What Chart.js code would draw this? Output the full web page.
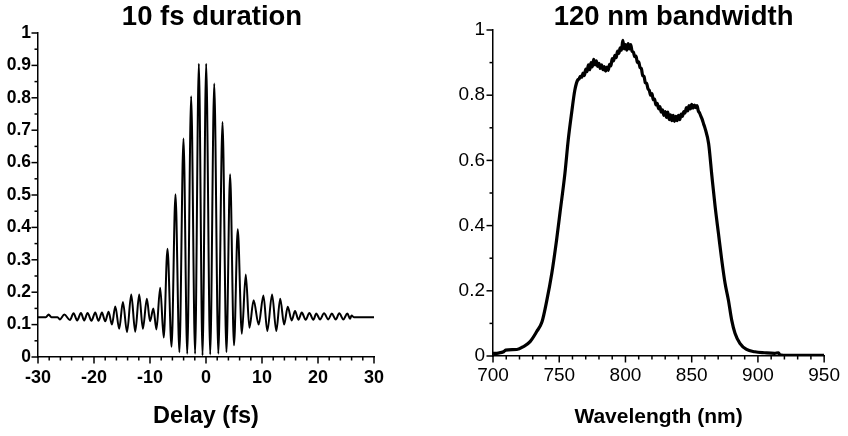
<!DOCTYPE html>
<html>
<head>
<meta charset="utf-8">
<script src="https://cdn.jsdelivr.net/npm/chart.js@4.4.1/dist/chart.umd.min.js"></script>
<style>
  body { margin: 0; background: #fff; }
  #wrap { display: flex; width: 848px; height: 436px; }
  canvas { display: block; }
</style>
</head>
<body>
<div id="wrap">
  <canvas id="acChart" width="424" height="436"></canvas>
  <canvas id="specChart" width="424" height="436"></canvas>
</div>
<script>
// interferometric autocorrelation (peaks and troughs)
const delayFs = [
  -30, -28.6, -28.1, -27.6, -26.5, -26.1, -25.3, -24.3, -23.65, -23.0, -22.33, -21.75, -21.15,
  -20.45, -19.78, -19.2, -18.58, -18.0, -17.4, -16.8, -16.2, -15.5, -14.84, -14.1, -13.35,
  -12.64, -11.93, -11.27, -10.56, -10.0, -9.4, -8.85, -8.18, -7.55, -6.88, -6.15, -5.45,
  -4.75, -4.02, -3.35, -2.65, -1.95, -1.28, -0.62, 0.03, 0.75, 1.47, 2.2, 2.95, 3.65, 4.3,
  5.0, 5.67, 6.4, 7.1, 7.75, 8.5, 9.4, 10.25, 10.95, 11.8, 12.55, 13.25, 13.95, 14.6, 15.3,
  15.9, 16.5, 17.1, 17.8, 18.46, 19.17, 19.7, 20.37, 21.08, 21.85, 22.45, 23.17, 23.8, 24.52,
  25.24, 25.72, 26.0, 26.4, 30
];
const autocorr = [
  0.123, 0.123, 0.131, 0.123, 0.123, 0.116, 0.131, 0.114, 0.135, 0.113, 0.136, 0.113, 0.136,
  0.112, 0.137, 0.112, 0.137, 0.110, 0.140, 0.100, 0.156, 0.087, 0.170, 0.077, 0.193,
  0.078, 0.193, 0.087, 0.180, 0.110, 0.150, 0.085, 0.214, 0.060, 0.334, 0.032, 0.502,
  0.015, 0.674, 0.010, 0.805, 0.010, 0.905, 0.005, 0.905, 0.008, 0.844, 0.010, 0.725, 0.015, 0.564,
  0.036, 0.394, 0.072, 0.255, 0.090, 0.175, 0.100, 0.190, 0.080, 0.193, 0.080, 0.180, 0.100, 0.155, 0.113,
  0.142, 0.115, 0.137, 0.115, 0.136, 0.115, 0.134, 0.116, 0.135, 0.116, 0.134, 0.116, 0.135, 0.116,
  0.134, 0.118, 0.128, 0.123, 0.123
];

// spectrum, right panel
const wavelengthNm = [
  700, 704, 708, 709.5, 718, 723, 728, 733, 737, 740.6, 744.4, 748, 750.6, 754.3, 756.8, 759.3,
  761.8, 764,
  765, 766, 767, 768, 769, 770, 771, 772, 773, 774, 775, 776, 777, 778, 779, 780, 781, 782,
  783, 784, 785, 786, 787, 788, 789, 790, 791, 792, 793, 794, 795, 796, 797, 798, 799, 800,
  801, 802, 803, 804, 805, 806, 807, 808, 809, 810, 811, 812, 813, 814, 815, 816, 817, 818,
  819, 820, 821, 822, 823, 824, 825, 826, 827, 828, 829, 830, 831, 832, 833, 834, 835, 836,
  837, 838, 839, 840, 841, 842, 843, 844, 845, 846, 847, 848, 849, 850, 851, 852, 853, 854,
  855, 856, 857, 858, 859, 860,
  862.8, 865.3, 867.7, 870.2, 872.7, 875.2, 877.7, 880.2, 882.7, 886.4, 891.4, 897.7, 905,
  912.6, 915.5, 916.5, 922.6, 950
];
const spectrum = [
  0.008, 0.009, 0.013, 0.018, 0.020, 0.029, 0.044, 0.075, 0.105, 0.170, 0.254, 0.356, 0.440,
  0.560, 0.663, 0.744, 0.816, 0.847,
  0.850, 0.858, 0.855, 0.868, 0.860, 0.880, 0.872, 0.893, 0.878, 0.900, 0.887, 0.910, 0.893,
  0.905, 0.888, 0.898, 0.882, 0.893, 0.878, 0.888, 0.874, 0.886, 0.876, 0.895, 0.890, 0.912,
  0.905, 0.922, 0.915, 0.935, 0.928, 0.945, 0.938, 0.968, 0.942, 0.955, 0.938, 0.958, 0.942,
  0.955, 0.935, 0.932, 0.918, 0.920, 0.900, 0.902, 0.885, 0.882, 0.860, 0.858, 0.838, 0.836,
  0.820, 0.815, 0.800, 0.805, 0.786, 0.788, 0.770, 0.775, 0.758, 0.765, 0.748, 0.755, 0.738,
  0.750, 0.732, 0.748, 0.725, 0.740, 0.722, 0.738, 0.720, 0.735, 0.722, 0.738, 0.725, 0.742,
  0.735, 0.750, 0.745, 0.762, 0.752, 0.768, 0.758, 0.772, 0.760, 0.770, 0.762, 0.768, 0.752,
  0.745, 0.735, 0.725, 0.712, 0.700,
  0.651, 0.550, 0.458, 0.376, 0.294, 0.223, 0.172, 0.110, 0.070, 0.039, 0.020, 0.013, 0.010,
  0.008, 0.010, 0.004, 0.002, 0.002
];

// tick labels (major) and minor tick steps
const delayTicks = [-30, -20, -10, 0, 10, 20, 30];
const delayTickLabels = ['-30', '-20', '-10', '0', '10', '20', '30'];
const acTicks = [0, 0.1, 0.2, 0.3, 0.4, 0.5, 0.6, 0.7, 0.8, 0.9, 1];
const acTickLabels = ['0', '0.1', '0.2', '0.3', '0.4', '0.5', '0.6', '0.7', '0.8', '0.9', '1'];
const wlTicks = [700, 750, 800, 850, 900, 950];
const wlTickLabels = ['700', '750', '800', '850', '900', '950'];
const specTicks = [0, 0.2, 0.4, 0.6, 0.8, 1];
const specTickLabels = ['0', '0.2', '0.4', '0.6', '0.8', '1'];

const FONT = '"Liberation Sans", Arial, Helvetica, sans-serif';

// every minor step gets a tick, only majors get a label
function tickBuilder(min, max, step) {
  return function (scale) {
    const out = [];
    const n = Math.round((max - min) / step);
    for (let i = 0; i <= n; i++) out.push({ value: +(min + i * step).toFixed(4) });
    scale.ticks = out;
  };
}
function labeller(values, labels) {
  return function (value) {
    const i = values.findIndex(v => Math.abs(v - value) < 1e-6);
    return i < 0 ? '' : labels[i];
  };
}

// outward tick marks, longer for the labelled ones
const tickMarks = {
  id: 'tickMarks',
  afterDraw(chart) {
    const ctx = chart.ctx;
    ctx.save();
    ctx.strokeStyle = '#000';
    ctx.lineWidth = 1.5;
    Object.values(chart.scales).forEach(scale => {
      scale.ticks.forEach(t => {
        const len = t.label === '' ? 3.5 : 6.5;
        const p = scale.getPixelForValue(t.value);
        ctx.beginPath();
        if (scale.isHorizontal()) {
          ctx.moveTo(p, scale.top);
          ctx.lineTo(p, scale.top + len);
        } else {
          ctx.moveTo(scale.right, p);
          ctx.lineTo(scale.right - len, p);
        }
        ctx.stroke();
      });
    });
    ctx.restore();
  }
};

const headline = {
  id: 'headline',
  afterDraw(chart, args, opts) {
    const ctx = chart.ctx;
    const a = chart.chartArea;
    ctx.save();
    ctx.font = 'bold 27.5px ' + FONT;
    ctx.fillStyle = '#000';
    ctx.textAlign = 'center';
    ctx.textBaseline = 'middle';
    ctx.fillText(opts.text, (a.left + a.right) / 2 + opts.shift, opts.y);
    ctx.restore();
  }
};

function makeChart(id, cfg) {
  const ctx = document.getElementById(id).getContext('2d');
  return new Chart(ctx, {
    type: 'line',
    data: {
      datasets: [{
        data: cfg.xs.map((x, i) => ({ x: x, y: cfg.ys[i] })),
        borderColor: '#000',
        borderWidth: cfg.lineWidth,
        pointRadius: 0,
        fill: false,
        cubicInterpolationMode: 'monotone',
        borderJoinStyle: 'round'
      }]
    },
    options: {
      responsive: false,
      animation: false,
      devicePixelRatio: 1,
      events: [],
      layout: { padding: cfg.padding },
      plugins: {
        legend: { display: false },
        tooltip: { enabled: false },
        headline: { text: cfg.title, shift: cfg.titleShift, y: 17.5 }
      },
      scales: {
        x: {
          type: 'linear',
          min: cfg.xMin, max: cfg.xMax,
          afterBuildTicks: tickBuilder(cfg.xMin, cfg.xMax, cfg.xStep),
          afterFit: s => { s.height = cfg.xHeight; },
          grid: { display: false, drawTicks: false },
          border: { display: true, color: '#000', width: 1.5 },
          ticks: {
            autoSkip: false, maxRotation: 0, color: '#000', padding: cfg.xPad,
            font: { family: FONT, size: cfg.xFont, weight: cfg.tickWeight },
            callback: labeller(cfg.xTicks, cfg.xLabels)
          },
          title: {
            display: true, text: cfg.xTitle, color: '#000',
            font: { family: FONT, size: cfg.xTitleSize, weight: 'bold' },
            padding: { top: 0, bottom: cfg.xTitlePad }
          }
        },
        y: {
          type: 'linear',
          min: 0, max: 1,
          afterBuildTicks: tickBuilder(0, 1, cfg.yStep),
          afterFit: s => { s.width = cfg.yWidth; },
          grid: { display: false, drawTicks: false },
          border: { display: true, color: '#000', width: 1.5 },
          ticks: {
            autoSkip: false, color: '#000', padding: cfg.yPad,
            font: { family: FONT, size: cfg.yFont, weight: cfg.tickWeight },
            callback: labeller(cfg.yTicks, cfg.yLabels)
          }
        }
      }
    },
    plugins: [tickMarks, headline]
  });
}

makeChart('acChart', {
  xs: delayFs, ys: autocorr, lineWidth: 2,
  title: '10 fs duration', titleShift: 6,
  padding: { top: 33, right: 50, left: 0, bottom: 0 },
  xMin: -30, xMax: 30, xStep: 2, xTicks: delayTicks, xLabels: delayTickLabels,
  xHeight: 79, xPad: 10, xFont: 18,
  xTitle: 'Delay (fs)', xTitleSize: 23.5, xTitlePad: 5,
  yStep: 0.05, yTicks: acTicks, yLabels: acTickLabels, yWidth: 38, yPad: 7, yFont: 17.5,
  tickWeight: 'bold'
});

makeChart('specChart', {
  xs: wavelengthNm, ys: spectrum, lineWidth: 3.2,
  title: '120 nm bandwidth', titleShift: 15,
  padding: { top: 30, right: 21, left: 0, bottom: 0 },
  xMin: 700, xMax: 950, xStep: 10, xTicks: wlTicks, xLabels: wlTickLabels,
  xHeight: 80, xPad: 8, xFont: 19,
  xTitle: 'Wavelength (nm)', xTitleSize: 21, xTitlePad: 6,
  yStep: 0.1, yTicks: specTicks, yLabels: specTickLabels, yWidth: 69, yPad: 8, yFont: 19,
  tickWeight: 'normal'
});
</script>
</body>
</html>
